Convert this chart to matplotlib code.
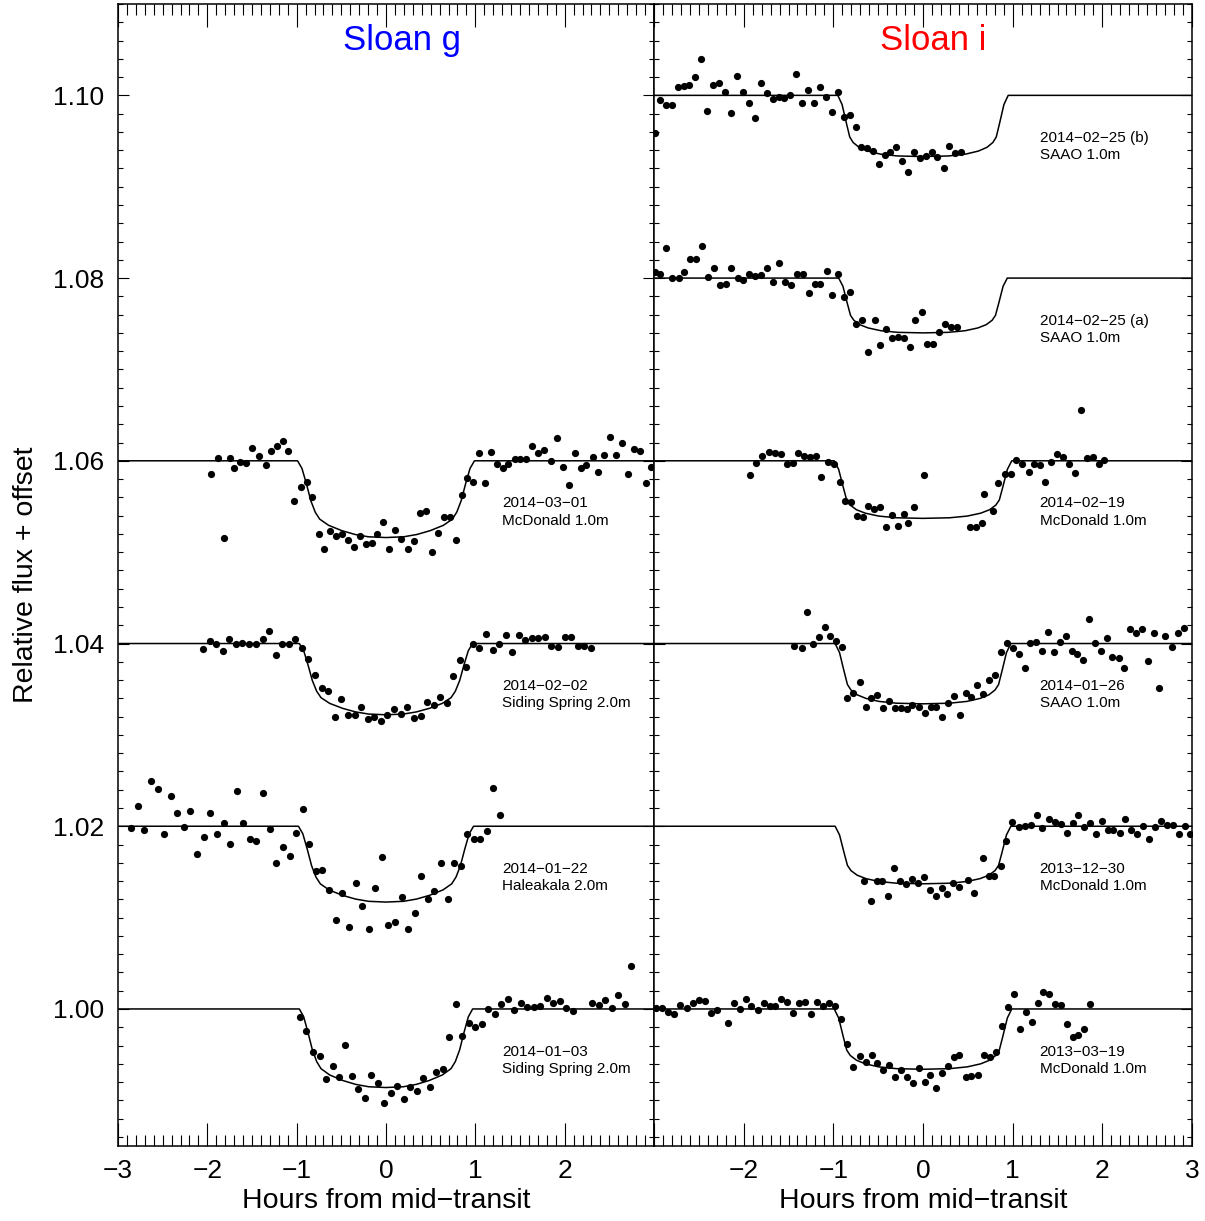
import numpy as np
import matplotlib
matplotlib.use('Agg')
import matplotlib.pyplot as plt
from matplotlib.ticker import MultipleLocator

plt.rcParams['font.family'] = ['Liberation Sans', 'DejaVu Sans']

# ---- Sloan g light curves (hours from mid-transit, relative flux + offset) ----
g_0301_x = [-1.959, -1.879, -1.814, -1.749, -1.699, -1.634, -1.569, -1.500, -1.424, -1.347,
            -1.282, -1.217, -1.148, -1.095, -1.026, -0.953, -0.888, -0.823, -0.754, -0.689,
            -0.624, -0.555, -0.490, -0.425, -0.360, -0.291, -0.226, -0.161, -0.096, -0.031,
            0.038, 0.103, 0.168, 0.245, 0.310, 0.375, 0.448, 0.513, 0.582, 0.647,
            0.712, 0.781, 0.850, 0.911, 0.976, 1.041, 1.106, 1.175, 1.240, 1.305,
            1.370, 1.439, 1.504, 1.569, 1.634, 1.703, 1.772, 1.848, 1.917, 1.982,
            2.047, 2.113, 2.178, 2.243, 2.312, 2.377, 2.442, 2.511, 2.576, 2.641,
            2.710, 2.775, 2.840, 2.905, 2.970]
g_0301_y = [1.0586, 1.0603, 1.0516, 1.0603, 1.0592, 1.0599, 1.0598, 1.0614, 1.0605, 1.0595,
            1.0611, 1.0616, 1.0622, 1.0611, 1.0556, 1.0571, 1.0577, 1.0560, 1.0520, 1.0504,
            1.0523, 1.0518, 1.0520, 1.0513, 1.0506, 1.0518, 1.0509, 1.0510, 1.0520, 1.0533,
            1.0503, 1.0524, 1.0514, 1.0504, 1.0512, 1.0543, 1.0545, 1.0500, 1.0521, 1.0539,
            1.0539, 1.0513, 1.0563, 1.0581, 1.0577, 1.0608, 1.0576, 1.0610, 1.0597, 1.0592,
            1.0597, 1.0602, 1.0602, 1.0602, 1.0616, 1.0608, 1.0612, 1.0600, 1.0625, 1.0593,
            1.0573, 1.0608, 1.0592, 1.0595, 1.0604, 1.0588, 1.0606, 1.0626, 1.0606, 1.0619,
            1.0586, 1.0613, 1.0611, 1.0576, 1.0593]

g_0202_x = [-2.044, -1.975, -1.898, -1.826, -1.753, -1.680, -1.607, -1.531, -1.458, -1.382,
            -1.309, -1.236, -1.160, -1.091, -1.014, -0.941, -0.869, -0.792, -0.720, -0.647,
            -0.574, -0.501, -0.425, -0.352, -0.279, -0.207, -0.134, -0.057, 0.015, 0.092,
            0.165, 0.237, 0.314, 0.387, 0.459, 0.532, 0.605, 0.681, 0.754, 0.827,
            0.899, 0.972, 1.045, 1.117, 1.194, 1.267, 1.339, 1.416, 1.489, 1.561,
            1.634, 1.707, 1.780, 1.852, 1.929, 2.001, 2.074, 2.147, 2.220, 2.296]
g_0202_y = [1.0394, 1.0403, 1.0399, 1.0392, 1.0405, 1.0400, 1.0401, 1.0399, 1.0399, 1.0405,
            1.0414, 1.0387, 1.0399, 1.0399, 1.0405, 1.0395, 1.0383, 1.0366, 1.0351, 1.0348,
            1.0320, 1.0339, 1.0322, 1.0322, 1.0331, 1.0317, 1.0320, 1.0315, 1.0322, 1.0328,
            1.0323, 1.0331, 1.0318, 1.0321, 1.0336, 1.0333, 1.0342, 1.0335, 1.0364, 1.0382,
            1.0374, 1.0400, 1.0395, 1.0410, 1.0393, 1.0399, 1.0409, 1.0391, 1.0409, 1.0404,
            1.0406, 1.0406, 1.0407, 1.0397, 1.0396, 1.0407, 1.0407, 1.0397, 1.0397, 1.0395]

g_0122_x = [-2.851, -2.778, -2.706, -2.629, -2.556, -2.484, -2.411, -2.338, -2.262, -2.189,
            -2.116, -2.040, -1.967, -1.891, -1.818, -1.745, -1.669, -1.596, -1.523, -1.450,
            -1.374, -1.301, -1.228, -1.156, -1.079, -1.007, -0.934, -0.857, -0.785, -0.712,
            -0.635, -0.563, -0.490, -0.413, -0.341, -0.268, -0.195, -0.119, -0.046, 0.027,
            0.100, 0.176, 0.249, 0.321, 0.394, 0.467, 0.540, 0.616, 0.689, 0.762,
            0.834, 0.907, 0.984, 1.056, 1.129, 1.202, 1.278]
g_0122_y = [1.0198, 1.0222, 1.0196, 1.0250, 1.0241, 1.0192, 1.0233, 1.0214, 1.0199, 1.0217,
            1.0170, 1.0188, 1.0214, 1.0192, 1.0203, 1.0181, 1.0239, 1.0203, 1.0186, 1.0184,
            1.0236, 1.0197, 1.0160, 1.0177, 1.0167, 1.0193, 1.0219, 1.0181, 1.0151, 1.0152,
            1.0130, 1.0097, 1.0127, 1.0090, 1.0138, 1.0113, 1.0087, 1.0132, 1.0166, 1.0092,
            1.0095, 1.0123, 1.0088, 1.0105, 1.0146, 1.0120, 1.0129, 1.0160, 1.0120, 1.0160,
            1.0156, 1.0191, 1.0186, 1.0186, 1.0195, 1.0242, 1.0212]

g_0103_x = [-0.961, -0.892, -0.815, -0.742, -0.674, -0.597, -0.524, -0.455, -0.383, -0.310,
            -0.237, -0.165, -0.092, -0.019, 0.054, 0.126, 0.199, 0.272, 0.344, 0.417,
            0.490, 0.563, 0.635, 0.708, 0.781, 0.853, 0.926, 0.999, 1.072, 1.144,
            1.217, 1.290, 1.362, 1.435, 1.508, 1.581, 1.653, 1.726, 1.799, 1.871,
            1.944, 2.017, 2.089, 2.308, 2.380, 2.453, 2.526, 2.598, 2.671, 2.740]
g_0103_y = [0.9991, 0.9976, 0.9953, 0.9948, 0.9923, 0.9938, 0.9925, 0.9961, 0.9927, 0.9912,
            0.9903, 0.9928, 0.9919, 0.9897, 0.9908, 0.9916, 0.9901, 0.9915, 0.9910, 0.9924,
            0.9915, 0.9931, 0.9934, 0.9969, 1.0005, 0.9970, 0.9985, 0.9980, 0.9983, 1.0000,
            0.9994, 1.0005, 1.0011, 0.9999, 1.0006, 1.0002, 1.0002, 1.0003, 1.0012, 1.0006,
            1.0009, 1.0001, 0.9998, 1.0006, 1.0004, 1.0010, 1.0001, 1.0015, 1.0005, 1.0047]

# ---- Sloan i light curves ----
i_0225b_x = [-2.985, -2.928, -2.863, -2.798, -2.736, -2.671, -2.606, -2.541, -2.472, -2.407,
             -2.342, -2.273, -2.204, -2.139, -2.074, -2.005, -1.940, -1.875, -1.810, -1.745,
             -1.676, -1.611, -1.546, -1.481, -1.412, -1.347, -1.278, -1.213, -1.148, -1.079,
             -1.014, -0.945, -0.884, -0.815, -0.750, -0.693, -0.624, -0.559, -0.494, -0.429,
             -0.367, -0.306, -0.237, -0.165, -0.100, -0.034, 0.034, 0.096, 0.161, 0.230,
             0.291, 0.360, 0.421]
i_0225b_y = [1.0959, 1.0995, 1.0989, 1.0989, 1.1009, 1.1010, 1.1011, 1.1020, 1.1040, 1.0983,
             1.1011, 1.1013, 1.1004, 1.0981, 1.1021, 1.1004, 1.0992, 1.0975, 1.1014, 1.1003,
             1.0996, 1.0998, 1.0997, 1.1000, 1.1023, 1.0992, 1.1006, 1.0992, 1.1009, 1.0998,
             1.0982, 1.1004, 1.0976, 1.0978, 1.0965, 1.0943, 1.0942, 1.0939, 1.0925, 1.0935,
             1.0938, 1.0943, 1.0928, 1.0916, 1.0938, 1.0931, 1.0934, 1.0938, 1.0932, 1.0920,
             1.0945, 1.0937, 1.0938]

i_0225a_x = [-2.989, -2.935, -2.863, -2.798, -2.717, -2.664, -2.602, -2.533, -2.465, -2.400,
             -2.331, -2.266, -2.201, -2.136, -2.067, -2.002, -1.937, -1.871, -1.803, -1.737,
             -1.672, -1.607, -1.542, -1.473, -1.408, -1.343, -1.274, -1.209, -1.144, -1.075,
             -1.010, -0.945, -0.880, -0.811, -0.746, -0.681, -0.612, -0.540, -0.475, -0.409,
             -0.341, -0.276, -0.210, -0.149, -0.084, -0.015, 0.050, 0.115, 0.180, 0.249,
             0.314, 0.379]
i_0225a_y = [1.0807, 1.0805, 1.0833, 1.0800, 1.0800, 1.0807, 1.0821, 1.0821, 1.0835, 1.0801,
             1.0811, 1.0792, 1.0793, 1.0811, 1.0800, 1.0798, 1.0804, 1.0802, 1.0803, 1.0811,
             1.0796, 1.0817, 1.0796, 1.0792, 1.0805, 1.0805, 1.0784, 1.0794, 1.0793, 1.0808,
             1.0782, 1.0805, 1.0779, 1.0785, 1.0750, 1.0754, 1.0719, 1.0754, 1.0727, 1.0744,
             1.0734, 1.0735, 1.0734, 1.0725, 1.0754, 1.0763, 1.0728, 1.0728, 1.0741, 1.0750,
             1.0747, 1.0747]

i_0219_x = [-1.925, -1.860, -1.791, -1.722, -1.653, -1.588, -1.519, -1.454, -1.389, -1.328,
            -1.263, -1.198, -1.133, -1.064, -0.995, -0.930, -0.869, -0.808, -0.739, -0.670,
            -0.612, -0.547, -0.482, -0.413, -0.348, -0.279, -0.214, -0.165, -0.096, 0.011,
            0.520, 0.586, 0.654, 0.685, 0.777, 0.842, 0.911, 0.984, 1.037, 1.102,
            1.179, 1.240, 1.309, 1.359, 1.431, 1.493, 1.561, 1.626, 1.695, 1.760,
            1.826, 1.894, 1.963, 2.021]
i_0219_y = [1.0584, 1.0598, 1.0605, 1.0610, 1.0608, 1.0607, 1.0597, 1.0598, 1.0609, 1.0605,
            1.0604, 1.0605, 1.0582, 1.0599, 1.0597, 1.0577, 1.0556, 1.0555, 1.0540, 1.0539,
            1.0551, 1.0547, 1.0549, 1.0527, 1.0541, 1.0529, 1.0542, 1.0532, 1.0549, 1.0584,
            1.0527, 1.0527, 1.0532, 1.0564, 1.0545, 1.0576, 1.0586, 1.0586, 1.0601, 1.0597,
            1.0588, 1.0596, 1.0595, 1.0577, 1.0599, 1.0607, 1.0604, 1.0597, 1.0587, 1.0656,
            1.0603, 1.0604, 1.0596, 1.0601]

i_0126_x = [-1.439, -1.355, -1.294, -1.228, -1.163, -1.095, -1.033, -0.968, -0.903, -0.846,
            -0.777, -0.708, -0.639, -0.578, -0.509, -0.444, -0.379, -0.314, -0.249, -0.184,
            -0.119, -0.050, 0.019, 0.084, 0.145, 0.214, 0.279, 0.344, 0.409, 0.475,
            0.540, 0.597, 0.674, 0.739, 0.804, 0.869, 0.941, 1.003, 1.068, 1.133,
            1.198, 1.263, 1.328, 1.393, 1.458, 1.527, 1.592, 1.657, 1.722, 1.783,
            1.852, 1.917, 1.982, 2.047, 2.113, 2.181, 2.246, 2.312, 2.377, 2.442,
            2.507, 2.572, 2.633, 2.702, 2.775, 2.840, 2.909]
i_0126_y = [1.0397, 1.0395, 1.0434, 1.0400, 1.0407, 1.0418, 1.0408, 1.0403, 1.0396, 1.0340,
            1.0346, 1.0358, 1.0331, 1.0340, 1.0344, 1.0329, 1.0337, 1.0329, 1.0329, 1.0328,
            1.0333, 1.0331, 1.0324, 1.0330, 1.0330, 1.0320, 1.0335, 1.0343, 1.0322, 1.0346,
            1.0341, 1.0355, 1.0345, 1.0360, 1.0366, 1.0391, 1.0401, 1.0395, 1.0389, 1.0373,
            1.0401, 1.0402, 1.0392, 1.0413, 1.0391, 1.0402, 1.0408, 1.0392, 1.0388, 1.0382,
            1.0427, 1.0401, 1.0392, 1.0406, 1.0385, 1.0384, 1.0373, 1.0416, 1.0411, 1.0416,
            1.0381, 1.0411, 1.0351, 1.0408, 1.0396, 1.0412, 1.0417]

i_1230_x = [-0.654, -0.582, -0.517, -0.452, -0.387, -0.318, -0.253, -0.188, -0.122, -0.057,
            0.011, 0.077, 0.142, 0.207, 0.264, 0.337, 0.402, 0.500, 0.574, 0.674,
            0.731, 0.796, 0.865, 0.926, 0.995, 1.068, 1.133, 1.202, 1.267, 1.332,
            1.401, 1.470, 1.535, 1.604, 1.669, 1.734, 1.799, 1.864, 1.929, 1.994,
            2.059, 2.124, 2.193, 2.258, 2.323, 2.392, 2.457, 2.522, 2.587, 2.656,
            2.721, 2.786, 2.851, 2.920, 2.977]
i_1230_y = [1.0140, 1.0118, 1.0140, 1.0140, 1.0124, 1.0154, 1.0140, 1.0137, 1.0142, 1.0138,
            1.0144, 1.0130, 1.0124, 1.0132, 1.0126, 1.0138, 1.0133, 1.0141, 1.0127, 1.0165,
            1.0145, 1.0145, 1.0156, 1.0184, 1.0205, 1.0199, 1.0200, 1.0201, 1.0212, 1.0198,
            1.0208, 1.0205, 1.0202, 1.0193, 1.0203, 1.0212, 1.0199, 1.0204, 1.0191, 1.0206,
            1.0196, 1.0196, 1.0193, 1.0208, 1.0196, 1.0191, 1.0200, 1.0186, 1.0199, 1.0206,
            1.0201, 1.0201, 1.0191, 1.0200, 1.0191]

i_0319_x = [-2.977, -2.909, -2.843, -2.778, -2.709, -2.637, -2.568, -2.503, -2.434, -2.369,
            -2.300, -2.170, -2.113, -2.044, -1.979, -1.914, -1.845, -1.776, -1.711, -1.646,
            -1.581, -1.512, -1.447, -1.378, -1.313, -1.244, -1.179, -1.110, -1.045, -0.976,
            -0.911, -0.846, -0.777, -0.708, -0.639, -0.574, -0.509, -0.444, -0.379, -0.310,
            -0.245, -0.180, -0.115, -0.050, 0.019, 0.080, 0.145, 0.210, 0.279, 0.344,
            0.406, 0.475, 0.540, 0.608, 0.685, 0.750, 0.819, 0.880, 0.949, 1.014,
            1.079, 1.144, 1.213, 1.278, 1.339, 1.404, 1.470, 1.535, 1.604, 1.669,
            1.734, 1.799, 1.864]
i_0319_y = [1.0001, 1.0001, 0.9997, 0.9994, 1.0004, 1.0001, 1.0006, 1.0010, 1.0009, 0.9996,
            0.9999, 0.9985, 1.0006, 1.0000, 1.0011, 1.0003, 0.9999, 1.0007, 1.0003, 1.0003,
            1.0011, 1.0008, 0.9996, 1.0007, 1.0008, 0.9995, 1.0008, 1.0003, 1.0007, 1.0003,
            0.9989, 0.9962, 0.9936, 0.9948, 0.9942, 0.9950, 0.9941, 0.9933, 0.9939, 0.9925,
            0.9933, 0.9926, 0.9919, 0.9935, 0.9920, 0.9928, 0.9914, 0.9930, 0.9938, 0.9947,
            0.9950, 0.9926, 0.9927, 0.9928, 0.9950, 0.9947, 0.9953, 0.9981, 1.0002, 1.0016,
            0.9978, 0.9997, 0.9986, 1.0006, 1.0019, 1.0016, 1.0005, 1.0004, 0.9983, 0.9969,
            0.9972, 0.9978, 1.0005]

# transit model profile: half transit (scaled to unit half-width)
# and fraction of full depth
g_prof_x = [-1.00, -0.95, -0.90, -0.85, -0.80, -0.75, -0.65, -0.50, -0.35, -0.20, 0.00]
g_prof_f = [0.00, 0.10, 0.30, 0.52, 0.67, 0.76, 0.84, 0.91, 0.96, 0.99, 1.00]
i_prof_x = [-1.00, -0.95, -0.90, -0.86, -0.82, -0.75, -0.65, -0.50, -0.30, 0.00]
i_prof_f = [0.00, 0.15, 0.45, 0.68, 0.77, 0.85, 0.91, 0.96, 0.99, 1.00]

# panel contents: (x, y, baseline, depth, half-width, date, site)
g_curves = [
    (g_0301_x, g_0301_y, 1.06, 0.0084, 0.99, '2014\u221203\u221201', 'McDonald 1.0m'),
    (g_0202_x, g_0202_y, 1.04, 0.0078, 0.97, '2014\u221202\u221202', 'Siding Spring 2.0m'),
    (g_0122_x, g_0122_y, 1.02, 0.0083, 0.98, '2014\u221201\u221222', 'Haleakala 2.0m'),
    (g_0103_x, g_0103_y, 1.00, 0.0086, 0.97, '2014\u221201\u221203', 'Siding Spring 2.0m'),
]
i_curves = [
    (i_0225b_x, i_0225b_y, 1.10, 0.0067, 0.95, '2014\u221202\u221225 (b)', 'SAAO 1.0m'),
    (i_0225a_x, i_0225a_y, 1.08, 0.0060, 0.94, '2014\u221202\u221225 (a)', 'SAAO 1.0m'),
    (i_0219_x, i_0219_y, 1.06, 0.0063, 0.99, '2014\u221202\u221219', 'McDonald 1.0m'),
    (i_0126_x, i_0126_y, 1.04, 0.0066, 0.98, '2014\u221201\u221226', 'SAAO 1.0m'),
    (i_1230_x, i_1230_y, 1.02, 0.0063, 0.98, '2013\u221212\u221230', 'McDonald 1.0m'),
    (i_0319_x, i_0319_y, 1.00, 0.0066, 0.99, '2013\u221203\u221219', 'McDonald 1.0m'),
]


def model_curve(prof_x, prof_f, base, depth, half):
    px = np.array(prof_x) * half
    pf = np.array(prof_f)
    xs = np.concatenate([[-3.0], px, -px[::-1][1:], [3.0]])
    fs = np.concatenate([[0.0], pf, pf[::-1][1:], [0.0]])
    return xs, base - depth * fs


W, H = 1205, 1221
fig = plt.figure(figsize=(W / 100, H / 100), dpi=100)
ax1 = fig.add_axes([118 / W, 1 - 1146 / H, 536 / W, 1142 / H])
ax2 = fig.add_axes([654 / W, 1 - 1146 / H, 538 / W, 1142 / H])

for ax, curves, prof_x, prof_f in [(ax1, g_curves, g_prof_x, g_prof_f),
                                   (ax2, i_curves, i_prof_x, i_prof_f)]:
    for xs, ys, base, depth, half, date, site in curves:
        mx, my = model_curve(prof_x, prof_f, base, depth, half)
        ax.plot(mx, my, color='black', lw=1.1, zorder=2)
        ax.plot(xs, ys, 'o', color='black', ms=5.2, mew=0, zorder=3)
        ax.text(1.30, base - 0.0051, date, fontsize=11, ha='left', va='baseline')
        ax.text(1.30, base - 0.0070, site, fontsize=11, ha='left', va='baseline')

    ax.set_xlim(-3, 3)
    ax.set_ylim(0.985, 1.110)
    ax.xaxis.set_major_locator(MultipleLocator(1))
    ax.xaxis.set_minor_locator(MultipleLocator(0.1))
    ax.yaxis.set_major_locator(MultipleLocator(0.02))
    ax.yaxis.set_minor_locator(MultipleLocator(0.002))
    ax.tick_params(which='both', direction='in', top=True, right=True, width=0.8)
    ax.tick_params(axis='x', which='major', length=16.5, labelsize=19, pad=9)
    ax.tick_params(axis='x', which='minor', length=8)
    ax.tick_params(axis='y', which='major', length=7.7, labelsize=19, pad=10)
    ax.tick_params(axis='y', which='minor', length=3.8)
    for s in ax.spines.values():
        s.set_linewidth(1.1)
    ax.set_xlabel('Hours from mid\u2212transit', fontsize=20.5, labelpad=4)

ax1.set_xticks(range(-3, 4))
ax1.set_xticklabels(['\u22123', '\u22122', '\u22121', '0', '1', '2', ''])
ax2.set_xticks(range(-3, 4))
ax2.set_xticklabels(['', '\u22122', '\u22121', '0', '1', '2', '3'])
ax1.set_yticks([1.00, 1.02, 1.04, 1.06, 1.08, 1.10])
ax1.set_yticklabels(['1.00', '1.02', '1.04', '1.06', '1.08', '1.10'])
ax2.set_yticks([1.00, 1.02, 1.04, 1.06, 1.08, 1.10])
ax2.set_yticklabels([])
ax1.set_ylabel('Relative flux + offset', fontsize=20.5, labelpad=10)

ax1.text(-0.48, 1.1050, 'Sloan g', color='#0000ff', fontsize=25, ha='left', va='baseline')
ax2.text(-0.48, 1.1050, 'Sloan i', color='#ff0000', fontsize=25, ha='left', va='baseline')

fig.savefig('out.png', dpi=100)
